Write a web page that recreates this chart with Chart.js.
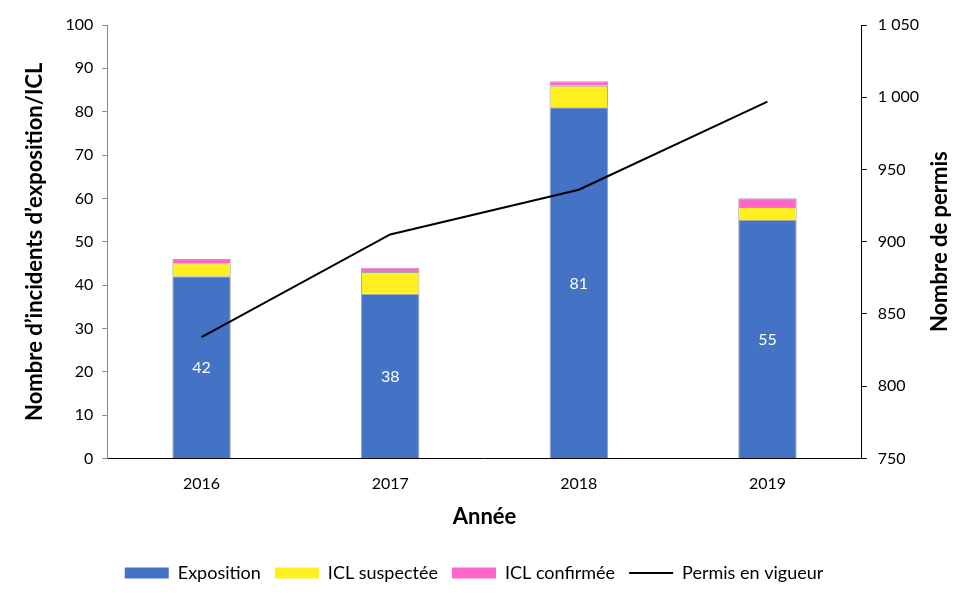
<!DOCTYPE html>
<html lang="fr">
<head>
    <meta charset="UTF-8">
    <title>Incidents d'exposition et permis</title>
    <script src="https://cdn.jsdelivr.net/npm/chart.js"></script>
    <style>
        body {
            margin: 0;
            background: white;
        }
        .chart-box {
            width: 980px;
            height: 604px;
            position: relative;
        }
    </style>
</head>
<body>
    <div class="chart-box">
        <canvas id="mainChart"></canvas>
    </div>

    <script>
        const years = ['2016', '2017', '2018', '2019'];
        const exposition = [42, 38, 81, 55];
        const iclSuspectee = [3, 5, 5, 3];
        const iclConfirmee = [1, 1, 1, 2];
        const permis = [834, 905, 936, 997];

        const FONT = 'Lato, "Noto Sans", sans-serif';
        const legendOrder = ['Exposition', 'ICL suspectée', 'ICL confirmée', 'Permis en vigueur'];

        // white value labels in the middle of the blue segments
        const barLabels = {
            id: 'barLabels',
            afterDatasetsDraw(chart) {
                const ctx = chart.ctx;
                const meta = chart.getDatasetMeta(1);
                ctx.save();
                ctx.fillStyle = '#ffffff';
                ctx.font = '16px ' + FONT;
                ctx.textAlign = 'center';
                ctx.textBaseline = 'middle';
                meta.data.forEach((bar, i) => {
                    ctx.fillText(exposition[i], bar.x, (bar.y + bar.base) / 2 + 1);
                });
                ctx.restore();
            }
        };

        // right axis title, read bottom-to-top like the left one
        const rightTitle = {
            id: 'rightTitle',
            afterDraw(chart) {
                const ctx = chart.ctx;
                const area = chart.chartArea;
                ctx.save();
                ctx.translate(940, (area.top + area.bottom) / 2);
                ctx.rotate(-Math.PI / 2);
                ctx.fillStyle = '#000';
                ctx.font = 'bold 22px ' + FONT;
                ctx.textAlign = 'center';
                ctx.textBaseline = 'middle';
                ctx.fillText('Nombre de permis', 0, 0);
                ctx.restore();
            }
        };

        function thousands(v) {
            return String(v).replace(/\B(?=(\d{3})+(?!\d))/g, ' ');
        }

        new Chart(document.getElementById('mainChart'), {
            data: {
                labels: years,
                datasets: [
                    {
                        type: 'line',
                        label: 'Permis en vigueur',
                        data: permis,
                        yAxisID: 'y1',
                        borderColor: '#000000',
                        backgroundColor: '#000000',
                        borderWidth: 2,
                        pointRadius: 0,
                        tension: 0,
                        order: 0
                    },
                    {
                        type: 'bar',
                        label: 'Exposition',
                        data: exposition,
                        backgroundColor: '#4472C4',
                        borderColor: '#A6A6A6',
                        borderWidth: 1,
                        order: 1
                    },
                    {
                        type: 'bar',
                        label: 'ICL suspectée',
                        data: iclSuspectee,
                        backgroundColor: '#FFEF1F',
                        borderColor: '#A6A6A6',
                        borderWidth: 1,
                        order: 1
                    },
                    {
                        type: 'bar',
                        label: 'ICL confirmée',
                        data: iclConfirmee,
                        backgroundColor: '#FF66CC',
                        borderColor: '#A6A6A6',
                        borderWidth: 1,
                        order: 1
                    }
                ]
            },
            options: {
                responsive: true,
                maintainAspectRatio: false,
                animation: false,
                barPercentage: 0.31,
                categoryPercentage: 1,
                layout: { padding: { left: 18, right: 50, top: 25, bottom: 12 } },
                plugins: {
                    tooltip: { enabled: false },
                    legend: {
                        position: 'bottom',
                        labels: {
                            usePointStyle: true,
                            pointStyleWidth: 44,
                            boxHeight: 11,
                            padding: 14,
                            color: '#000',
                            font: { family: FONT, size: 18 },
                            sort: (a, b) => legendOrder.indexOf(a.text) - legendOrder.indexOf(b.text),
                            generateLabels(chart) {
                                const items = Chart.defaults.plugins.legend.labels.generateLabels(chart);
                                items.forEach(it => {
                                    if (it.text === 'Permis en vigueur') {
                                        it.pointStyle = 'line';
                                        it.strokeStyle = '#000';
                                        it.lineWidth = 2;
                                    } else {
                                        it.pointStyle = 'rect';
                                        it.lineWidth = 0;
                                    }
                                });
                                return items;
                            }
                        }
                    }
                },
                scales: {
                    x: {
                        stacked: true,
                        grid: { display: false, drawTicks: false },
                        border: { color: '#000' },
                        ticks: { color: '#000', padding: 16, font: { family: FONT, size: 16 } },
                        title: {
                            display: true,
                            text: 'Année',
                            color: '#000',
                            padding: { top: -6, bottom: 20 },
                            font: { family: FONT, size: 22, weight: 'bold' }
                        }
                    },
                    y: {
                        stacked: true,
                        min: 0,
                        max: 100,
                        ticks: { stepSize: 10, color: '#000', padding: 9, font: { family: FONT, size: 16 } },
                        grid: { display: true, drawOnChartArea: false, tickLength: 5, color: '#888' },
                        border: { color: '#888' },
                        title: {
                            display: true,
                            text: 'Nombre d’incidents d’exposition/ICL',
                            color: '#000',
                            padding: { top: 4, bottom: 8 },
                            font: { family: FONT, size: 22, weight: 'bold' }
                        }
                    },
                    y1: {
                        position: 'right',
                        min: 750,
                        max: 1050,
                        ticks: {
                            stepSize: 50,
                            color: '#000',
                            padding: 11,
                            font: { family: FONT, size: 16 },
                            callback: v => thousands(v)
                        },
                        grid: { display: true, drawOnChartArea: false, tickLength: 5, color: '#000' },
                        border: { color: '#000' }
                    }
                }
            },
            plugins: [barLabels, rightTitle]
        });
    </script>
</body>
</html>
